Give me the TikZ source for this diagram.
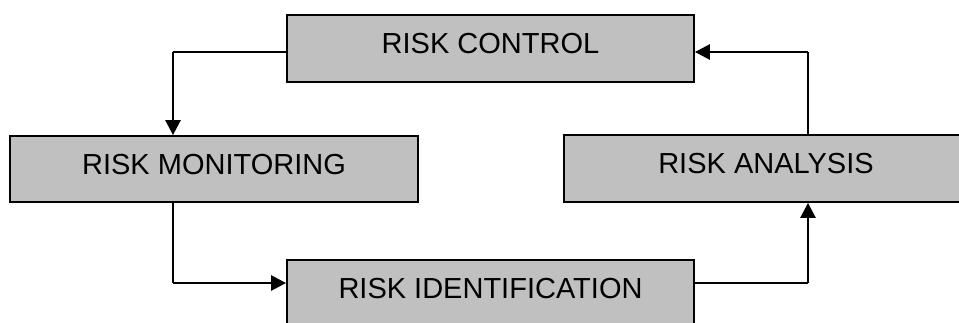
\documentclass[tikz,border=0pt]{standalone}
\usepackage{fontspec}
\setmainfont{Liberation Sans}
\usetikzlibrary{arrows.meta}
\definecolor{boxgray}{HTML}{C0C0C0}
\begin{document}
\begin{tikzpicture}[x=1pt,y=-1pt,
  riskbox/.style={draw=black,line width=1.8pt,fill=boxgray,rectangle,inner sep=0pt,
    font=\fontsize{29}{32}\selectfont,text depth=10pt},
  thinline/.style={line width=1.3pt},
  arrowline/.style={line width=2.6pt,-{Triangle[length=15pt,width=15pt]}}]
\useasboundingbox (0,0) rectangle (959,322);
\begin{scope}
\clip (0,0) rectangle (959,322);
\node[riskbox,minimum width=407pt,minimum height=67pt] (ctrl) at (490.5,48.5) {RISK CONTROL};
\node[riskbox,minimum width=408pt,minimum height=66pt] (mon) at (214,169) {RISK MONITORING};
\node[riskbox,minimum width=404pt,minimum height=67pt] (ana) at (766,168.5) {RISK ANALYSIS};
\node[riskbox,minimum width=407pt,minimum height=67pt] (ident) at (490.5,293.5) {RISK IDENTIFICATION};
\end{scope}
% control -> monitoring
\coordinate (c1) at (173,52);
\draw[thinline] (c1 -| ctrl.west) -- (c1);
\draw[arrowline] (c1) -- (c1 |- mon.north);
% monitoring -> identification
\coordinate (c2) at (173,283);
\draw[thinline] (c2 |- mon.south) -- (c2);
\draw[arrowline] (c2) -- (c2 -| ident.west);
% identification -> analysis
\coordinate (c3) at (808,283);
\draw[thinline] (c3 -| ident.east) -- (c3);
\draw[arrowline] (c3) -- (c3 |- ana.south);
% analysis -> control
\coordinate (c4) at (808,52);
\draw[thinline] (c4 |- ana.north) -- (c4);
\draw[arrowline] (c4) -- (c4 -| ctrl.east);
\end{tikzpicture}
\end{document}
